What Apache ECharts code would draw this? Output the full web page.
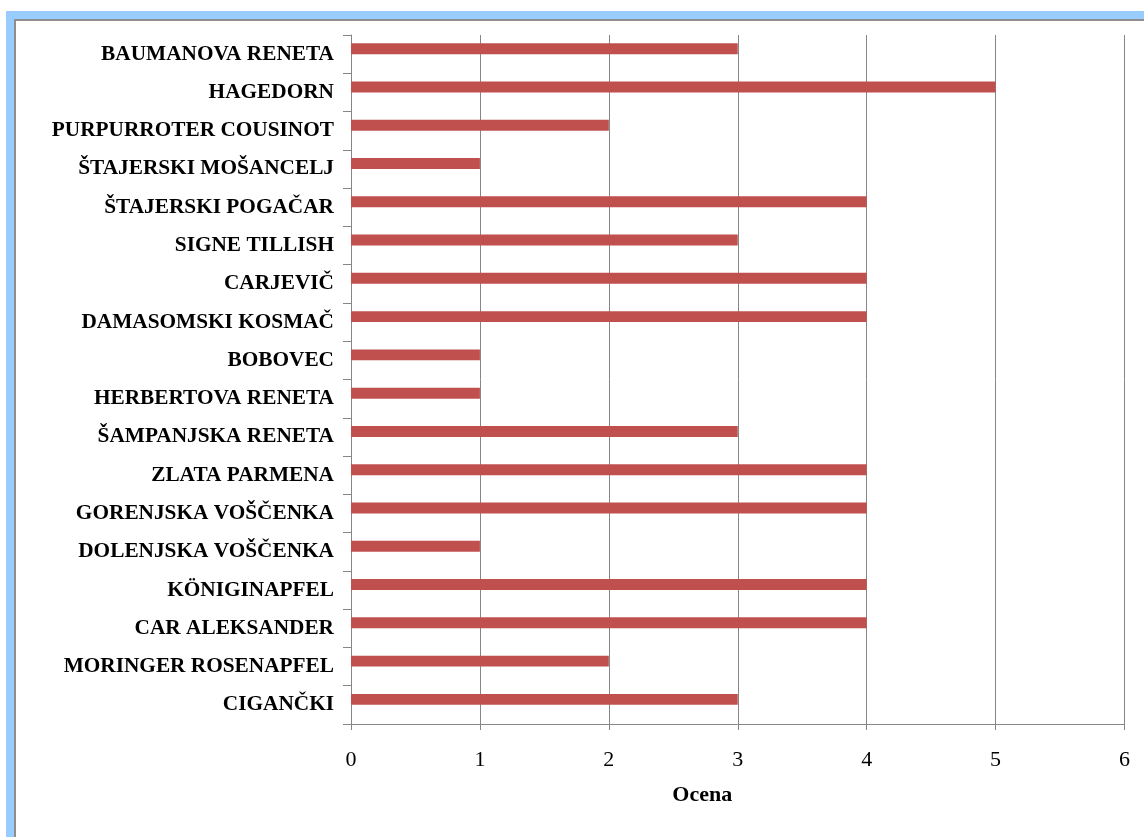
<!DOCTYPE html>
<html>
<head>
<meta charset="utf-8">
<script src="https://cdn.jsdelivr.net/npm/echarts@6/dist/echarts.min.js"></script>
<style>
html,body{margin:0;padding:0;background:#fff;}
#chart{width:1144px;height:837px;}
</style>
</head>
<body>
<div id="chart"></div>
<script>
var categories = ["BAUMANOVA RENETA","HAGEDORN","PURPURROTER COUSINOT","ŠTAJERSKI MOŠANCELJ","ŠTAJERSKI POGAČAR","SIGNE TILLISH","CARJEVIČ","DAMASOMSKI KOSMAČ","BOBOVEC","HERBERTOVA RENETA","ŠAMPANJSKA RENETA","ZLATA PARMENA","GORENJSKA VOŠČENKA","DOLENJSKA VOŠČENKA","KÖNIGINAPFEL","CAR ALEKSANDER","MORINGER ROSENAPFEL","CIGANČKI"];
var ocena = [3,5,2,1,4,3,4,4,1,1,3,4,4,1,4,4,2,3];
var emptySeries = [];
var xTicks = [0,1,2,3,4,5,6];
var axisTitle = "Ocena";

var FONT = "'Liberation Serif','Times New Roman',serif";
var chart = echarts.init(document.getElementById('chart'));
chart.setOption({
  animation: false,
  backgroundColor: '#ffffff',
  graphic: { elements: [
    { type: 'rect', z: -30, silent: true, shape: { x: 6, y: 11, width: 1200, height: 900 }, style: { fill: '#99CCFF' } },
    { type: 'rect', z: -20, silent: true, shape: { x: 14, y: 19, width: 1200, height: 900 }, style: { fill: '#8E8E8E' } },
    { type: 'rect', z: -10, silent: true, shape: { x: 16, y: 21, width: 1200, height: 900 }, style: { fill: '#ffffff' } }
  ]},
  grid: { left: 351, right: 19.5, top: 35, bottom: 113, containLabel: false },
  xAxis: {
    type: 'value', min: xTicks[0], max: xTicks[xTicks.length - 1], interval: 1,
    name: axisTitle, nameLocation: 'middle', nameGap: 60,
    nameTextStyle: { fontFamily: FONT, fontWeight: 'bold', fontSize: 22, color: '#000', padding: [0, 71, 0, 0] },
    axisLine: { show: true, lineStyle: { color: '#868686', width: 1 } },
    axisTick: { show: true, length: 6, lineStyle: { color: '#868686' } },
    axisLabel: { fontFamily: FONT, fontSize: 22, color: '#000', margin: 25 },
    splitLine: { show: true, lineStyle: { color: '#868686', width: 1 } }
  },
  yAxis: {
    type: 'category', data: categories, inverse: true,
    axisLine: { show: true, lineStyle: { color: '#868686', width: 1 } },
    axisTick: { show: true, length: 8, alignWithLabel: false, lineStyle: { color: '#868686' } },
    axisLabel: { fontFamily: FONT, fontWeight: 'bold', fontSize: 21.3, color: '#000', margin: 17 },
    splitLine: { show: false }
  },
  series: [
    { type: 'bar', data: ocena, itemStyle: { color: '#C0504D' }, barGap: '0%', barCategoryGap: '42.86%' },
    { type: 'bar', data: emptySeries, itemStyle: { color: '#4F81BD' }, barGap: '0%', barCategoryGap: '42.86%' }
  ]
});
</script>
</body>
</html>
